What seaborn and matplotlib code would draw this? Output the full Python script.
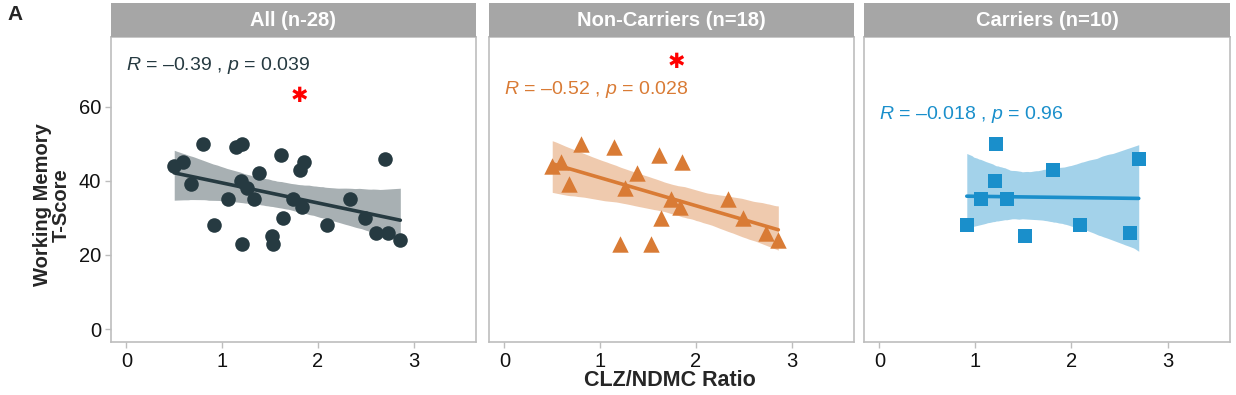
import numpy as np
import pandas as pd
import seaborn as sns
import matplotlib
matplotlib.use("Agg")
import matplotlib.pyplot as plt
from matplotlib.collections import PolyCollection

# ---------------- data ----------------
nc_ratio = [0.50, 0.59, 0.68, 0.80, 1.15, 1.21, 1.26, 1.39, 1.53, 1.61,
            1.64, 1.74, 1.83, 1.85, 2.33, 2.49, 2.73, 2.86]
nc_score = [44, 45, 39, 50, 49, 23, 38, 42, 23, 47,
            30, 35, 33, 45, 35, 30, 26, 24]
c_ratio = [0.91, 1.06, 1.20, 1.21, 1.33, 1.52, 1.81, 2.09, 2.61, 2.70]
c_score = [28, 35, 40, 50, 35, 25, 43, 28, 26, 46]

panel_titles = ["All (n-28)", "Non-Carriers (n=18)", "Carriers (n=10)"]
stat_labels = [r"$\it{R}$ = –0.39 , $\it{p}$ = 0.039",
               r"$\it{R}$ = –0.52 , $\it{p}$ = 0.028",
               r"$\it{R}$ = –0.018 , $\it{p}$ = 0.96"]
stat_y = [71, 64.5, 58]
star_pos = [(1.81, 63), (1.80, 72), None]
colors = ["#263a41", "#d97b35", "#1a8fcb"]
markers = ["o", "^", "s"]
marker_sizes = [110, 140, 95]
x_ticks = [0, 1, 2, 3]
y_ticks = [0, 20, 40, 60]

all_ratio = nc_ratio + c_ratio
all_score = nc_score + c_score
datasets = [(all_ratio, all_score), (nc_ratio, nc_score), (c_ratio, c_score)]

# ---------------- style ----------------
sns.set_theme(style="white")
plt.rcParams['font.family'] = ['Liberation Sans', 'DejaVu Sans']
plt.rcParams['mathtext.fontset'] = 'custom'
plt.rcParams['mathtext.rm'] = 'Liberation Sans'
plt.rcParams['mathtext.it'] = 'Liberation Sans:italic'

W, H = 1236, 395
fig = plt.figure(figsize=(W / 100, H / 100), dpi=100)

panel_px = [(111, 476), (489, 854), (864, 1230)]
top_px, bot_px, strip_top_px = 37, 342, 3

for i, ((x0, x1), (xs, ys)) in enumerate(zip(panel_px, datasets)):
    ax = fig.add_axes([x0 / W, 1 - bot_px / H, (x1 - x0) / W, (bot_px - top_px) / H])
    df = pd.DataFrame({"ratio": xs, "score": ys})
    sns.regplot(data=df, x="ratio", y="score", ax=ax, color=colors[i],
                marker=markers[i], ci=98, n_boot=2000, seed=3,
                scatter_kws={"s": marker_sizes[i], "alpha": 1, "linewidths": 0, "zorder": 4},
                line_kws={"lw": 2.6, "zorder": 3})
    for coll in ax.collections:
        if isinstance(coll, PolyCollection):
            coll.set_alpha(0.4)
            coll.set_linewidth(0)
    ax.set_xlim(-0.16, 3.65)
    ax.set_ylim(-3.5, 78.8)
    ax.set_xticks(x_ticks)
    ax.set_yticks(y_ticks)
    ax.set_xlabel("")
    ax.set_ylabel("")
    for s in ax.spines.values():
        s.set_color("#bdbdbd")
        s.set_linewidth(1.2)
    ax.tick_params(axis="both", which="both", direction="out", length=4, width=1,
                   color="#bdbdbd", labelsize=14.5, labelcolor="#111111", pad=3,
                   bottom=True, left=True)
    if i > 0:
        ax.tick_params(axis="y", labelleft=False, left=False)
    ax.text(0.0, stat_y[i], stat_labels[i], color=colors[i], fontsize=14,
            ha="left", va="center")
    if star_pos[i] is not None:
        ax.text(star_pos[i][0], star_pos[i][1], "✱", color="#ff0000", fontsize=15,
                family=["DejaVu Sans"], ha="center", va="center")
    # strip
    sax = fig.add_axes([x0 / W, 1 - top_px / H, (x1 - x0) / W, (top_px - strip_top_px) / H])
    sax.set_facecolor("#a6a6a6")
    sax.set_xticks([]); sax.set_yticks([])
    for s in sax.spines.values():
        s.set_visible(False)
    sax.text(0.5, 0.5, panel_titles[i], color="white", fontsize=14.5, fontweight="bold",
             ha="center", va="center", transform=sax.transAxes)

fig.text(670 / W, 1 - 381 / H, "CLZ/NDMC Ratio", fontsize=15.5, fontweight="bold",
         ha="center", va="center")
fig.text(52 / W, 1 - 205 / H, "Working Memory\nT-Score", fontsize=14.5, fontweight="bold",
         ha="center", va="center", rotation=90, linespacing=1.0)
fig.text(15 / W, 1 - 15 / H, "A", fontsize=15, fontweight="bold", ha="center", va="center")

fig.savefig("out.png", dpi=100)
